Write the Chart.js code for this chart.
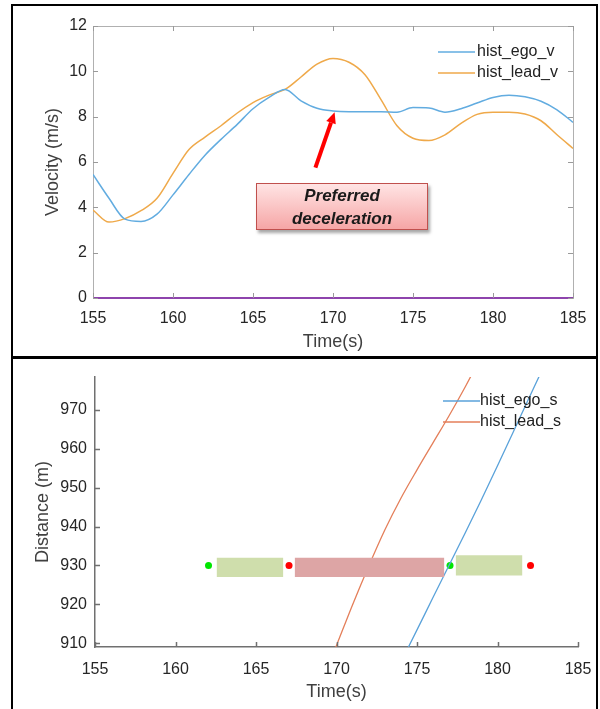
<!DOCTYPE html>
<html>
<head>
<meta charset="utf-8">
<script src="https://cdn.jsdelivr.net/npm/chart.js@4.4.0/dist/chart.umd.min.js"></script>
<style>
  body { margin: 0; width: 600px; height: 709px; background: #fff; position: relative; overflow: hidden; }
  .frame { position: absolute; border: 2px solid #000; box-sizing: border-box; }
  #topFrame { left: 11px; top: 4px; width: 587px; height: 355px; }
  #bottomFrame { left: 11px; top: 356px; width: 587px; height: 370px; }
  canvas { position: absolute; left: 0; }
  #velChart { top: 0; }
  #distChart { top: 357px; }
  .note {
    position: absolute; left: 256px; top: 183px; width: 172px; height: 47px;
    box-sizing: border-box; border: 1.5px solid #c0504d;
    background: linear-gradient(#ffe4e4, #f6a6a6);
    box-shadow: 2px 3px 3px rgba(0,0,0,0.35);
    font: italic bold 17px "Liberation Sans", Arial, sans-serif;
    color: #1a1a1a; text-align: center; line-height: 23px; padding-top: 0;
  }
</style>
</head>
<body>
<div class="frame" id="topFrame"></div>
<div class="frame" id="bottomFrame"></div>
<canvas id="velChart" width="600" height="357"></canvas>
<canvas id="distChart" width="600" height="352"></canvas>
<div class="note">Preferred<br>deceleration</div>

<script>
// ---- data: velocity panel ----
const timeV = [155, 156, 157, 158, 159, 160, 161, 162, 163, 164, 165, 166, 167, 168, 169, 170,
               171, 172, 173, 174, 175, 176, 177, 178, 179, 180, 181, 182, 183, 184, 185];
const egoV = [5.45, 4.4, 3.48, 3.38, 3.7, 4.55, 5.45, 6.3, 7.0, 7.65, 8.35, 8.85, 9.2, 8.7, 8.37, 8.25,
              8.22, 8.22, 8.22, 8.2, 8.4, 8.38, 8.2, 8.35, 8.6, 8.85, 8.95, 8.88, 8.68, 8.3, 7.75];
const leadV = [3.88, 3.35, 3.5, 3.85, 4.4, 5.5, 6.55, 7.1, 7.6, 8.15, 8.62, 8.95, 9.2, 9.75, 10.32, 10.57,
               10.4, 9.85, 8.75, 7.6, 7.05, 6.95, 7.2, 7.7, 8.1, 8.2, 8.2, 8.12, 7.82, 7.2, 6.6];
const velTicks = [0, 2, 4, 6, 8, 10, 12];
const timeTicks = [155, 160, 165, 170, 175, 180, 185];
// annotation arrow (time, velocity)
const arrowFrom = [168.9, 5.75];
const arrowTo = [170.1, 8.2];

// ---- data: distance panel ----
const leadTime = [169, 170, 171, 172, 173, 174, 175, 176, 177, 178, 179];
const leadS = [899, 909.4, 919.9, 929.8, 939.1, 947.3, 954.6, 961.6, 968.6, 976.0, 983.9];
const egoTime = [174, 175, 176, 177, 178, 179, 180, 181, 182, 183];
const egoS = [905.1, 913.4, 921.8, 930.1, 938.4, 946.9, 955.65, 964.55, 973.5, 982.3];
const distTicks = [910, 920, 930, 940, 950, 960, 970];
// gap windows drawn as bars around 930 m
const barStart = [162.55, 167.4, 177.4];
const barEnd = [166.7, 176.7, 181.55];
const barLow = [927, 927, 927.4];
const barHigh = [932, 932, 932.6];
const barColors = ['#cfdeac', '#dda5a5', '#cfdeac'];
const greenDots = [162.05, 177.05];
const redDots = [167.05, 182.05];
const dotDist = 930;

Chart.defaults.font.family = '"Liberation Sans", Arial, sans-serif';
Chart.defaults.animation = false;

const pts = (xs, ys) => xs.map((x, i) => ({ x: x, y: ys[i] }));

// matlab style ticks pointing into the plot, optional box
const insideTicks = {
  id: 'insideTicks',
  beforeDatasetsDraw(chart, args, opts) {
    if (!opts.box) return;
    const { ctx, chartArea: a } = chart;
    ctx.save();
    ctx.strokeStyle = opts.boxColor;
    ctx.lineWidth = 1;
    ctx.strokeRect(a.left + 0.5, a.top + 0.5, a.right - a.left, a.bottom - a.top);
    ctx.restore();
  },
  afterDraw(chart, args, opts) {
    const { ctx, chartArea: a, scales } = chart;
    const len = 5;
    ctx.save();
    ctx.strokeStyle = opts.color;
    ctx.lineWidth = opts.width || 1;
    ctx.beginPath();
    scales.x.ticks.forEach(t => {
      const px = Math.round(scales.x.getPixelForValue(t.value)) + 0.5;
      ctx.moveTo(px, a.bottom); ctx.lineTo(px, a.bottom - len);
      if (opts.box) { ctx.moveTo(px, a.top); ctx.lineTo(px, a.top + len); }
    });
    scales.y.ticks.forEach(t => {
      const py = Math.round(scales.y.getPixelForValue(t.value)) + 0.5;
      ctx.moveTo(a.left, py); ctx.lineTo(a.left + len, py);
      if (opts.box) { ctx.moveTo(a.right, py); ctx.lineTo(a.right - len, py); }
    });
    ctx.stroke();
    ctx.restore();
  }
};

// legend in the upper right of the plot
const lineLegend = {
  id: 'lineLegend',
  afterDraw(chart, args, opts) {
    const { ctx, chartArea: a } = chart;
    ctx.save();
    ctx.font = '16px "Liberation Sans", Arial, sans-serif';
    ctx.fillStyle = '#222';
    ctx.textBaseline = 'middle';
    chart.data.datasets.forEach(ds => {
      if (ds.legendRow === undefined) return;
      const y = a.top + opts.top + ds.legendRow * 21;
      ctx.strokeStyle = ds.borderColor;
      ctx.lineWidth = 1.5;
      ctx.beginPath();
      ctx.moveTo(a.right - opts.lineStart, y);
      ctx.lineTo(a.right - opts.lineStart + 37, y);
      ctx.stroke();
      ctx.fillText(ds.label, a.right - opts.textStart, y);
    });
    ctx.restore();
  }
};

const noteArrow = {
  id: 'noteArrow',
  afterDatasetsDraw(chart) {
    const { ctx, scales: { x, y } } = chart;
    const x0 = x.getPixelForValue(arrowFrom[0]), y0 = y.getPixelForValue(arrowFrom[1]);
    const x1 = x.getPixelForValue(arrowTo[0]), y1 = y.getPixelForValue(arrowTo[1]);
    const ang = Math.atan2(y1 - y0, x1 - x0);
    const head = 11;
    ctx.save();
    ctx.strokeStyle = '#ff0000';
    ctx.fillStyle = '#ff0000';
    ctx.lineWidth = 4;
    ctx.beginPath();
    ctx.moveTo(x0, y0);
    ctx.lineTo(x1 - head * Math.cos(ang), y1 - head * Math.sin(ang));
    ctx.stroke();
    ctx.beginPath();
    ctx.moveTo(x1, y1);
    ctx.lineTo(x1 - head * Math.cos(ang) + 5 * Math.sin(ang), y1 - head * Math.sin(ang) - 5 * Math.cos(ang));
    ctx.lineTo(x1 - head * Math.cos(ang) - 5 * Math.sin(ang), y1 - head * Math.sin(ang) + 5 * Math.cos(ang));
    ctx.closePath();
    ctx.fill();
    ctx.restore();
  }
};

function axisTitle(text, pad) {
  return { display: true, text: text, color: '#404040', font: { size: 18 }, padding: pad };
}

// fix the axis band size so the plot area lands where the reference has it
function fixHeight(h) {
  return s => { s.height = h; s.paddingLeft = 0; s.paddingRight = 0; };
}
function fixWidth(w) {
  return s => { s.width = w; s.paddingTop = 0; s.paddingBottom = 0; };
}

// Velocity chart
new Chart(document.getElementById('velChart'), {
  type: 'line',
  data: {
    datasets: [
      { label: 'hist_ego_v', data: pts(timeV, egoV), borderColor: '#62ace0', borderWidth: 1.5,
        pointRadius: 0, cubicInterpolationMode: 'monotone', legendRow: 0 },
      { label: 'hist_lead_v', data: pts(timeV, leadV), borderColor: '#efa94a', borderWidth: 1.5,
        pointRadius: 0, cubicInterpolationMode: 'monotone', legendRow: 1 },
      { label: 'zero', data: pts([155, 185], [0, 0]), borderColor: '#8e44ad', borderWidth: 2,
        pointRadius: 0, clip: false }
    ]
  },
  options: {
    responsive: false,
    layout: { padding: { left: 0, right: 27, top: 26, bottom: 0 } },
    plugins: {
      legend: { display: false },
      tooltip: { enabled: false },
      insideTicks: { box: true, color: '#9a9a9a', boxColor: '#b0b0b0' },
      lineLegend: { top: 26, lineStart: 135, textStart: 96 }
    },
    scales: {
      x: {
        type: 'linear', min: 155, max: 185,
        afterBuildTicks: s => { s.ticks = timeTicks.map(v => ({ value: v })); },
        afterFit: fixHeight(59),
        grid: { display: false, drawTicks: false },
        border: { color: '#9a9a9a', width: 1 },
        ticks: { color: '#262626', font: { size: 16 }, padding: 11, maxRotation: 0, autoSkip: false },
        title: axisTitle('Time(s)', { bottom: 4 })
      },
      y: {
        min: 0, max: 12,
        afterBuildTicks: s => { s.ticks = velTicks.map(v => ({ value: v })); },
        afterFit: fixWidth(93),
        grid: { display: false, drawTicks: false },
        border: { color: '#9a9a9a', width: 1 },
        ticks: { color: '#262626', font: { size: 16 }, padding: 6 },
        title: axisTitle('Velocity (m/s)', { top: 42 })
      }
    }
  },
  plugins: [insideTicks, lineLegend, noteArrow]
});

// Distance chart
const distSets = [
  { label: 'hist_ego_s', data: pts(egoTime, egoS), borderColor: '#5aa2da', borderWidth: 1.3,
    pointRadius: 0, cubicInterpolationMode: 'monotone', legendRow: 0 },
  { label: 'hist_lead_s', data: pts(leadTime, leadS), borderColor: '#e47f5a', borderWidth: 1.3,
    pointRadius: 0, cubicInterpolationMode: 'monotone', legendRow: 1 }
];
barStart.forEach((t0, i) => {
  distSets.unshift({
    label: 'gap' + i,
    data: pts([t0, barEnd[i]], [barHigh[i], barHigh[i]]),
    borderWidth: 0, pointRadius: 0,
    backgroundColor: barColors[i],
    fill: { target: { value: barLow[i] }, above: barColors[i], below: barColors[i] }
  });
});
distSets.push(
  { label: 'start', data: greenDots.map(t => ({ x: t, y: dotDist })), showLine: false,
    pointRadius: 3.5, pointBackgroundColor: '#00e600', pointBorderWidth: 0 },
  { label: 'end', data: redDots.map(t => ({ x: t, y: dotDist })), showLine: false,
    pointRadius: 3.5, pointBackgroundColor: '#ff0000', pointBorderWidth: 0 }
);

new Chart(document.getElementById('distChart'), {
  type: 'line',
  data: { datasets: distSets },
  options: {
    responsive: false,
    layout: { padding: { left: 0, right: 22, top: 20, bottom: 0 } },
    plugins: {
      legend: { display: false },
      tooltip: { enabled: false },
      insideTicks: { box: false, color: '#707070', width: 1.5 },
      lineLegend: { top: 24, lineStart: 135, textStart: 98 }
    },
    scales: {
      x: {
        type: 'linear', min: 155, max: 185,
        afterBuildTicks: s => { s.ticks = timeTicks.map(v => ({ value: v })); },
        afterFit: fixHeight(62),
        grid: { display: false, drawTicks: false },
        border: { color: '#707070', width: 1.5 },
        ticks: { color: '#262626', font: { size: 16 }, padding: 13, maxRotation: 0, autoSkip: false },
        title: axisTitle('Time(s)', { bottom: 6 })
      },
      y: {
        min: 909, max: 978.5,
        afterBuildTicks: s => { s.ticks = distTicks.map(v => ({ value: v })); },
        afterFit: fixWidth(95),
        grid: { display: false, drawTicks: false },
        border: { color: '#707070', width: 1.5 },
        ticks: { color: '#262626', font: { size: 16 }, padding: 8 },
        title: axisTitle('Distance (m)', { top: 32 })
      }
    }
  },
  plugins: [insideTicks, lineLegend]
});
</script>
</body>
</html>
